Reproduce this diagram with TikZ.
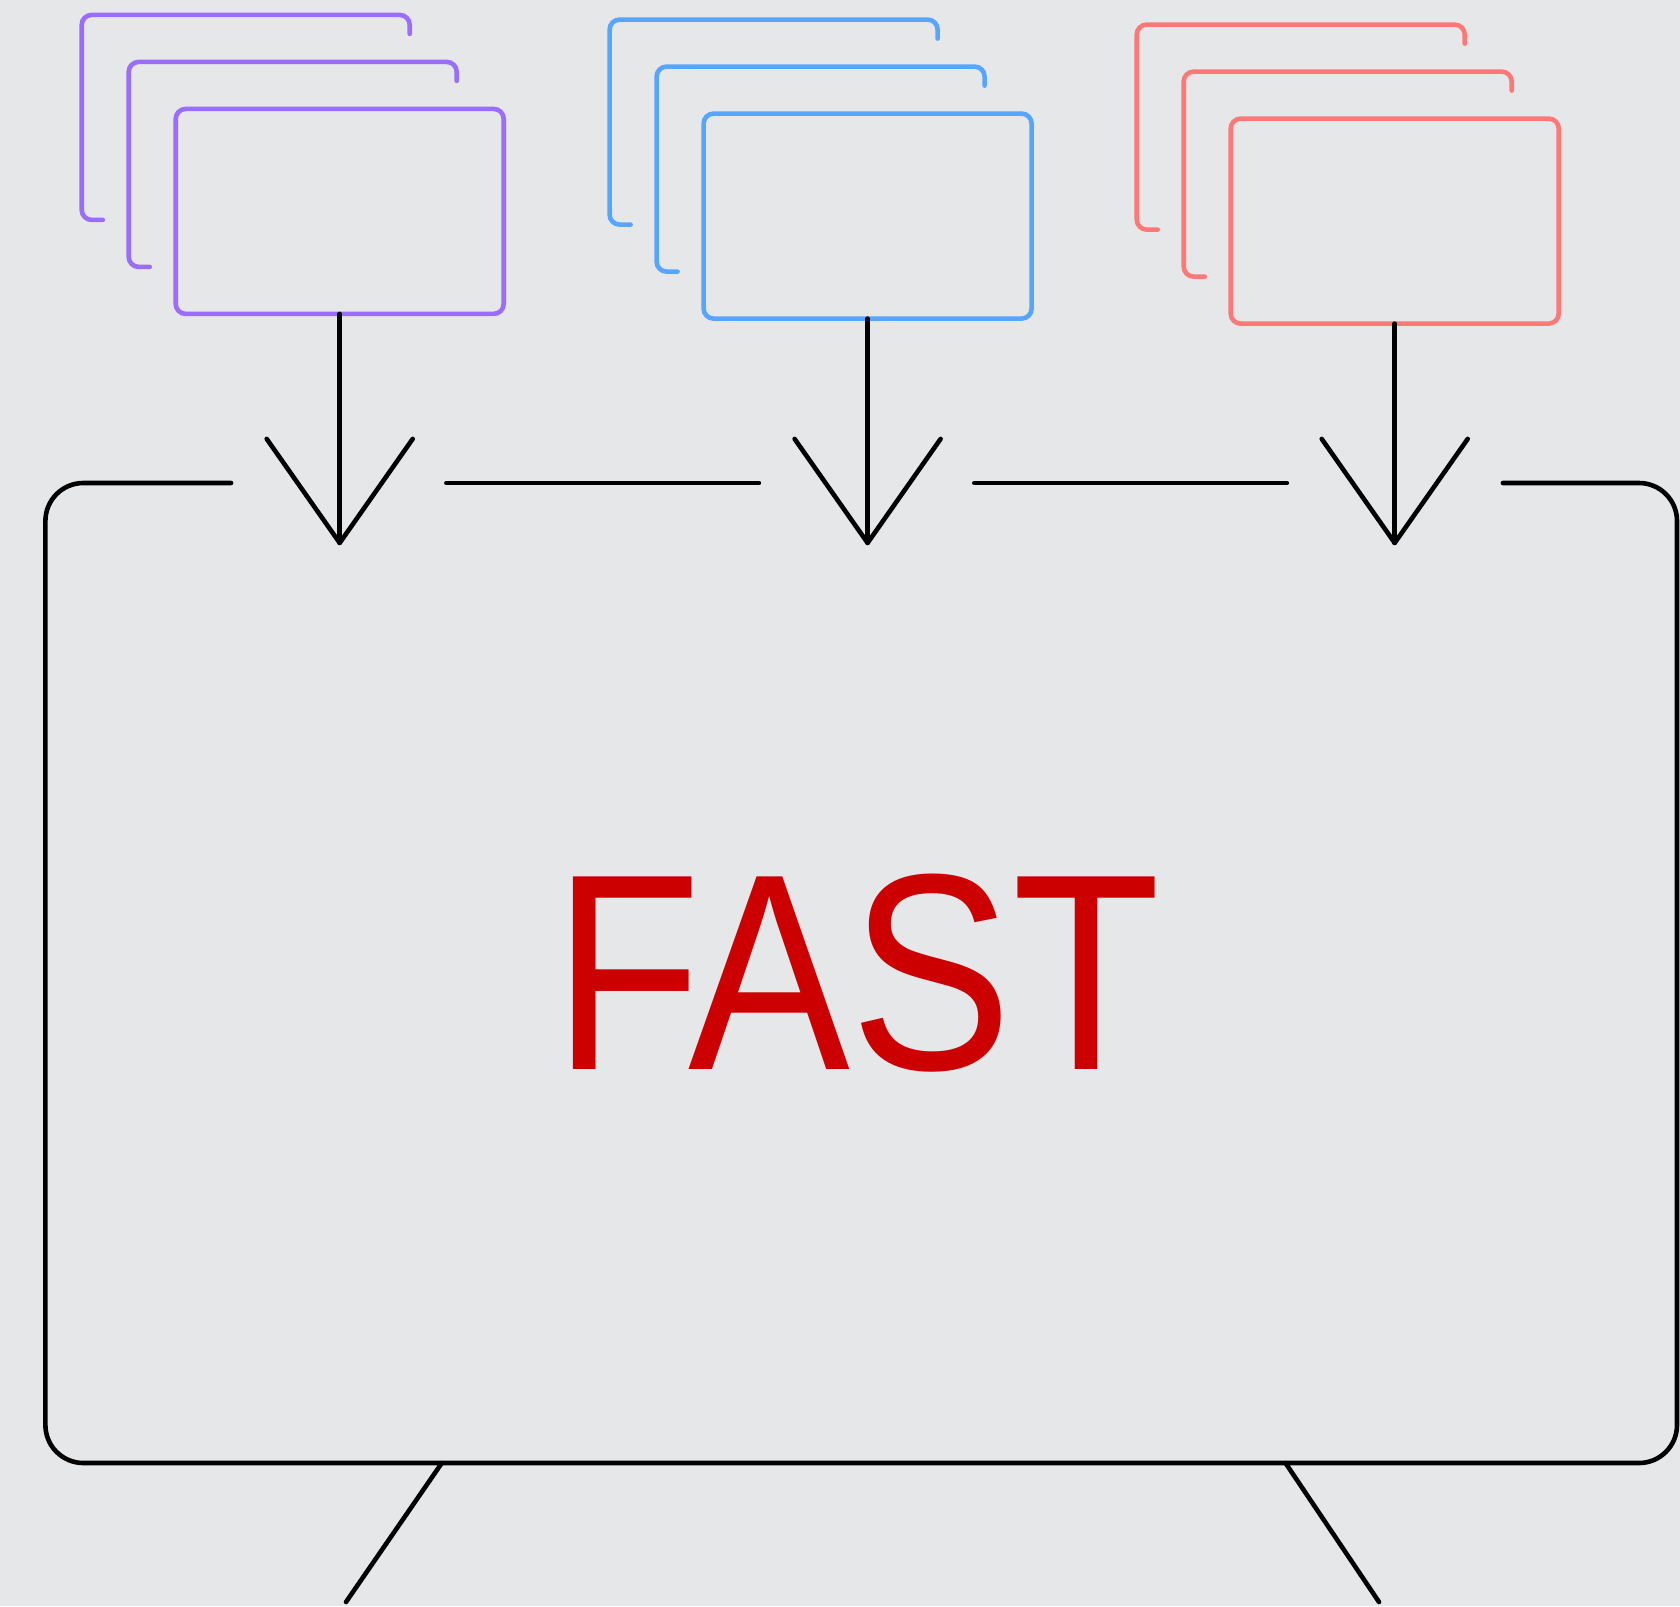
\documentclass[tikz,border=0pt]{standalone}
\usepackage{fontspec}
\setmainfont{Liberation Sans}
\usepackage{graphicx}
\definecolor{bg}{HTML}{E6E7E9}
\definecolor{purp}{HTML}{9B6DFF}
\definecolor{blu}{HTML}{56A6FF}
\definecolor{rd}{HTML}{FF7878}
\definecolor{fastred}{HTML}{CC0000}
\tikzset{
  conn/.style={draw=black, line width=4.6pt, line cap=round, line join=round},
  cardline/.style={line width=4.6pt, line cap=round, rounded corners=10pt},
  cardbox/.style={draw, line width=4.6pt, rounded corners=10pt, rectangle, inner sep=0pt, outer sep=0pt, minimum width=328pt, minimum height=205pt},
}
\begin{document}
\begin{tikzpicture}[x=1pt, y=-1pt]
\fill[bg] (0,0) rectangle (1680,1606);
\useasboundingbox (0,0) rectangle (1680,1606);

% card stacks and arrows
\foreach \L/\T/\c/\n in {175.7/108.9/purp/p, 703.6/113.6/blu/b, 1230.7/118.6/rd/r}{
  \draw[cardline, draw=\c] (\L-47+21, \T-47+205) -- (\L-47, \T-47+205) -- (\L-47, \T-47) -- (\L-47+328, \T-47) -- (\L-47+328, \T-47+19);
  \draw[cardline, draw=\c] (\L-94+21, \T-94+205) -- (\L-94, \T-94+205) -- (\L-94, \T-94) -- (\L-94+328, \T-94) -- (\L-94+328, \T-94+19);
  \node[cardbox, draw=\c] (\n3) at (\L+164, \T+102.5) {};
  \coordinate (\n tip) at (\L+164, 542.9);
  \draw[conn] (\n3.south) -- (\n tip);
  \draw[conn] (\n tip) ++(-73,-104) -- (\n tip) -- ++(73,-104);
}

% big box outline with gaps
\coordinate (bTL) at (45.4,483);
\coordinate (bBR) at (1677,1463);
\draw[conn, rounded corners=38pt] (231.1,483) -- (45.4,483) -- (45.4,1463) -- (1677,1463) -- (1677,483) -- (1502.9,483);
\draw[conn] (446.4,483) -- (758.9,483);
\draw[conn] (974.3,483) -- (1286.8,483);

% legs
\coordinate (lL1) at (441.8,1463);
\coordinate (lL2) at (346,1602);
\coordinate (lR1) at (1285.5,1463);
\coordinate (lR2) at (1379,1602);
\draw[conn] (lL1) -- (lL2);
\draw[conn] (lR1) -- (lR2);

% label
\node[text=fastred, inner sep=0pt, anchor=base] (fast) at (857,1069) {\scalebox{0.866}[1]{\fontsize{280}{300}\selectfont FAST}};
\end{tikzpicture}
\end{document}
